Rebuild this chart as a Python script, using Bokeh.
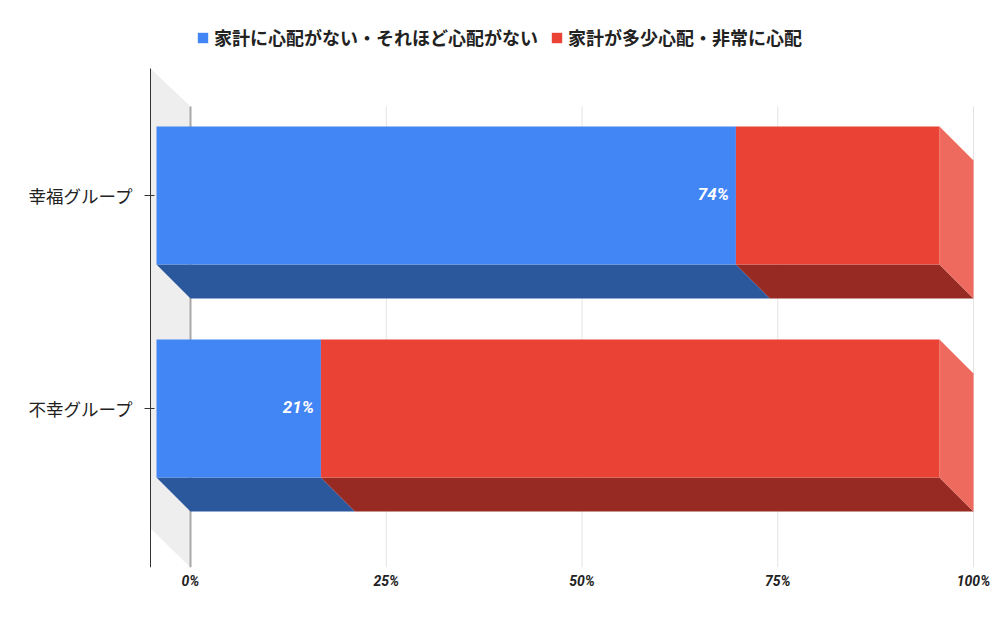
from bokeh.plotting import figure
from bokeh.models import Range1d, FixedTicker, Legend, LegendItem, ColumnDataSource
from bokeh.core.properties import value
from bokeh.embed import file_html
from bokeh.resources import INLINE

# ---- data ----
categories = ["幸福グループ", "不幸グループ"]
series_names = ["家計に心配がない・それほど心配がない", "家計が多少心配・非常に心配"]
not_worried = [74, 21]
worried = [26, 79]
x_ticks = [0, 25, 50, 75, 100]
x_tick_labels = ["0%", "25%", "50%", "75%", "100%"]

# ---- style / layout ----
front_colors = ["#4285f4", "#ea4335"]
bottom_colors = ["#2b579d", "#972a23"]
side_color = "#ee6a5f"
wall_color = "#eeeeee"

W, H = 995, 610
FL, FR, FT, FB = 149, 990, 0, 567   # frame edges in pixels
X0PX, CAT0PX = 190, 195             # pixel of 0% (back plane), pixel of first category (front)
PX_PCT = 7.83
PX_CAT = 213.0
DX = 34 / PX_PCT
DY = 34 / PX_CAT
HALF = 69 / PX_CAT


def xd(px):
    return (px - X0PX) / PX_PCT


def yd(py):
    return (py - CAT0PX) / PX_CAT


p = figure(width=W, height=H, output_backend="svg", toolbar_location=None,
           x_range=Range1d(xd(FL), xd(FR)), y_range=Range1d(yd(FB), yd(FT)),
           min_border_left=FL, min_border_right=W - FR, min_border_top=FT, min_border_bottom=H - FB)
p.grid.visible = False
p.outline_line_color = None
p.background_fill_color = "white"

# back wall (left)
p.patch(x=[xd(150), xd(190), xd(190), xd(150)],
        y=[yd(68), yd(106), yd(567), yd(528)],
        fill_color=wall_color, line_color=None)

# gridlines on back plane
p.segment(x0=x_ticks[1:], x1=x_ticks[1:], y0=[yd(106)] * 4, y1=[yd(567)] * 4,
          line_color="#e3e3e3", line_width=1)
p.segment(x0=[x_ticks[0]], x1=[x_ticks[0]], y0=[yd(106)], y1=[yd(567)],
          line_color="#a8a8a8", line_width=2)

# y axis line
p.segment(x0=[xd(150)], x1=[xd(150)], y0=[yd(68)], y1=[yd(567)],
          line_color="#333333", line_width=1)

series = [not_worried, worried]
bottom_xs, bottom_ys, bottom_c = [], [], []
front_xs, front_ys, front_c = [], [], []
side_xs, side_ys = [], []
for i, cat in enumerate(categories):
    start = 0
    for s, vals in enumerate(series):
        v = vals[i]
        a, b = start, start + v
        yb = i + HALF
        yt = i - HALF
        bottom_xs.append([a - DX, b - DX, b, a])
        bottom_ys.append([yb, yb, yb + DY, yb + DY])
        bottom_c.append(bottom_colors[s])
        front_xs.append([a - DX, b - DX, b - DX, a - DX])
        front_ys.append([yt, yt, yb, yb])
        front_c.append(front_colors[s])
        start = b
    side_xs.append([start - DX, start, start, start - DX])
    side_ys.append([i - HALF, i - HALF + DY, i + HALF + DY, i + HALF])

p.patches(xs=bottom_xs, ys=bottom_ys, fill_color=bottom_c, line_color=None)
p.patches(xs=side_xs, ys=side_ys, fill_color=side_color, line_color=None)
p.patches(xs=front_xs, ys=front_ys, fill_color=front_c, line_color=None)

# value labels
lab = ColumnDataSource(dict(x=[v - DX for v in not_worried], y=list(range(len(categories))),
                            t=[f"{v}%" for v in not_worried]))
p.text(x="x", y="y", text="t", source=lab, x_offset=-7, y_offset=-2, text_align="right",
       text_baseline="middle", text_color="white", text_font=value("Roboto"),
       text_font_style="bold italic", text_font_size="17px")

# axes
xa = p.xaxis[0]
xa.ticker = FixedTicker(ticks=x_ticks)
xa.major_label_overrides = {t: l for t, l in zip(x_ticks, x_tick_labels)}
xa.axis_line_color = None
xa.major_tick_line_color = None
xa.major_tick_out = 0
xa.major_tick_in = 0
xa.minor_tick_line_color = None
xa.major_label_standoff = 5
xa.major_label_text_font = "Roboto"
xa.major_label_text_font_style = "bold italic"
xa.major_label_text_font_size = "14px"
xa.major_label_text_color = "#222222"

ya = p.yaxis[0]
ya.ticker = FixedTicker(ticks=list(range(len(categories))))
ya.major_label_overrides = {i: c for i, c in enumerate(categories)}
ya.axis_line_color = None
ya.major_tick_line_color = "#333333"
ya.minor_tick_line_color = None
ya.major_tick_in = 5
ya.major_tick_out = 5
ya.major_label_standoff = 11
ya.major_label_text_font = "Noto Sans CJK JP"
ya.major_label_text_font_size = "17.5px"
ya.major_label_text_color = "#222222"

# legend (swatch renderers are placed far outside the visible range)
items = []
for s, name in enumerate(series_names):
    r = p.quad(left=[-1000], right=[-999], top=[-1000], bottom=[-1001],
               fill_color=front_colors[s], line_color=None)
    items.append(LegendItem(label=name, renderers=[r]))
legend = Legend(items=items, orientation="horizontal", location=(196 - FL, FB - 50),
                glyph_width=13, glyph_height=13, label_standoff=5, spacing=12,
                padding=0, margin=0, border_line_color=None, background_fill_alpha=0,
                label_text_font="Noto Sans CJK JP", label_text_font_style="bold",
                label_text_font_size="18px", label_text_color="#222222",
                label_text_baseline="middle")
p.add_layout(legend)

open("out.html", "w").write(file_html(p, INLINE))
